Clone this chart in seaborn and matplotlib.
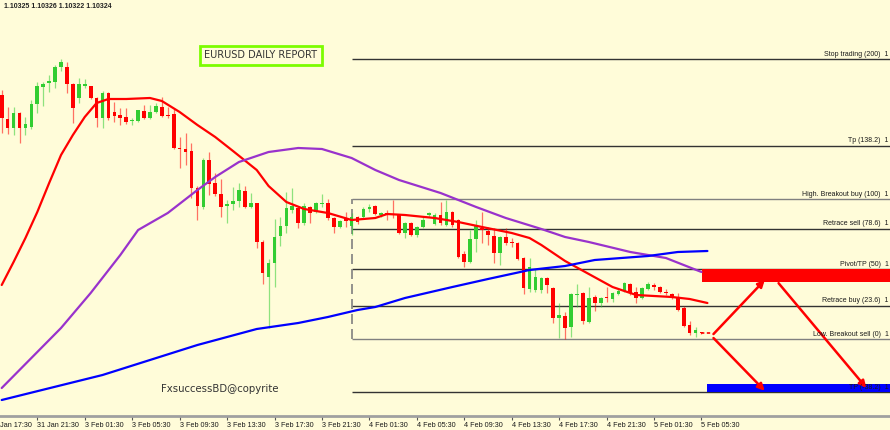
import numpy as np
import pandas as pd
import matplotlib
matplotlib.use("Agg")
import matplotlib.pyplot as plt
import matplotlib.transforms as mtransforms
import seaborn as sns
from matplotlib.patches import Rectangle, FancyArrowPatch

# ---------------- data (prices in points, 1 point = 0.00001) ----------------
first_bar = -6  # bar 0 = 31 Jan 21:30, M30 bars
opens = [110800, 110752, 110734, 110764, 110734, 110736,
         110782, 110816, 110824, 110826, 110856, 110856, 110822, 110794, 110818, 110818,
         110794, 110754, 110804, 110766, 110760, 110756, 110748, 110748, 110768, 110754,
         110766, 110776, 110760, 110762, 110694, 110692, 110688, 110614, 110576, 110670,
         110624, 110602, 110578, 110582, 110588, 110608, 110576, 110584, 110506, 110436,
         110464, 110518, 110538, 110570, 110574, 110544, 110576, 110566, 110582, 110584,
         110554, 110536, 110552, 110538, 110556, 110556, 110572, 110578, 110560, 110564,
         110562, 110560, 110524, 110544, 110520, 110536, 110560, 110542, 110560, 110540,
         110566, 110550, 110482, 110466, 110512, 110534, 110528, 110518, 110484, 110516,
         110506, 110504, 110474, 110412, 110410, 110410, 110434, 110414, 110354, 110358,
         110336, 110400, 110404, 110346, 110396, 110384, 110396, 110392, 110402, 110408,
         110422, 110406, 110394, 110412, 110420, 110416, 110406, 110402, 110396, 110374,
         110340, 110324, 110325]
highs = [110810, 110776, 110776, 110766, 110756, 110790,
         110826, 110826, 110840, 110860, 110872, 110866, 110824, 110834, 110832, 110818,
         110796, 110808, 110806, 110786, 110774, 110774, 110754, 110770, 110780, 110780,
         110784, 110796, 110776, 110774, 110716, 110724, 110704, 110618, 110674, 110686,
         110644, 110632, 110590, 110616, 110624, 110618, 110604, 110584, 110510, 110472,
         110552, 110556, 110606, 110614, 110576, 110584, 110578, 110586, 110602, 110592,
         110556, 110550, 110566, 110564, 110558, 110576, 110582, 110580, 110566, 110570,
         110590, 110562, 110546, 110546, 110538, 110556, 110566, 110564, 110586, 110590,
         110568, 110552, 110488, 110530, 110550, 110566, 110536, 110534, 110518, 110534,
         110514, 110506, 110476, 110474, 110452, 110436, 110436, 110416, 110384, 110366,
         110404, 110422, 110406, 110416, 110400, 110396, 110416, 110406, 110412, 110426,
         110424, 110416, 110416, 110426, 110424, 110418, 110412, 110404, 110404, 110378,
         110348, 110336, 110326]
lows = [110724, 110722, 110720, 110704, 110720, 110732,
        110764, 110778, 110806, 110814, 110848, 110804, 110744, 110784, 110814, 110792,
        110736, 110734, 110750, 110746, 110740, 110742, 110740, 110746, 110752, 110752,
        110764, 110756, 110754, 110692, 110654, 110660, 110594, 110550, 110572, 110600,
        110598, 110556, 110544, 110570, 110576, 110574, 110574, 110494, 110422, 110334,
        110416, 110498, 110524, 110564, 110534, 110540, 110544, 110564, 110576, 110550,
        110524, 110534, 110536, 110520, 110542, 110554, 110566, 110560, 110556, 110550,
        110554, 110522, 110514, 110518, 110516, 110534, 110556, 110540, 110540, 110538,
        110536, 110474, 110456, 110464, 110486, 110504, 110500, 110464, 110460, 110500,
        110496, 110470, 110402, 110406, 110406, 110404, 110404, 110344, 110314, 110312,
        110316, 110376, 110342, 110344, 110368, 110376, 110386, 110386, 110400, 110406,
        110400, 110384, 110392, 110410, 110410, 110404, 110400, 110392, 110368, 110336,
        110320, 110316, 110322]
closes = [110754, 110734, 110764, 110734, 110742, 110782,
          110818, 110822, 110828, 110856, 110866, 110822, 110774, 110822, 110822, 110794,
          110754, 110804, 110754, 110758, 110754, 110746, 110750, 110770, 110754, 110766,
          110778, 110758, 110758, 110694, 110692, 110686, 110614, 110578, 110670, 110622,
          110602, 110576, 110582, 110588, 110610, 110576, 110584, 110506, 110444, 110464,
          110516, 110538, 110574, 110578, 110544, 110578, 110564, 110584, 110584, 110554,
          110536, 110548, 110548, 110556, 110546, 110572, 110576, 110562, 110564, 110560,
          110560, 110524, 110544, 110520, 110536, 110550, 110564, 110560, 110544, 110566,
          110540, 110476, 110466, 110512, 110538, 110530, 110520, 110484, 110516, 110504,
          110504, 110472, 110414, 110456, 110436, 110434, 110420, 110354, 110360, 110334,
          110402, 110402, 110348, 110394, 110384, 110394, 110394, 110404, 110408, 110424,
          110404, 110394, 110414, 110422, 110416, 110406, 110404, 110396, 110370, 110338,
          110324, 110330, 110324]

# moving averages: (bar, price points)
ma_red_bar = [-6, -4, -2, 0, 2, 4, 6, 8, 10, 12, 15, 19, 21, 24, 27, 30, 33, 37, 39, 42, 45,
              49, 53, 57, 59, 62, 67, 71, 75, 80, 83, 85, 89, 93, 97, 101, 107, 110, 113]
ma_red_val = [110420, 110466, 110514, 110566, 110624, 110680, 110720, 110756, 110784, 110792,
              110792, 110794, 110788, 110766, 110740, 110716, 110688, 110650, 110618, 110586,
              110572, 110564, 110550, 110554, 110562, 110560, 110554, 110546, 110536, 110524,
              110514, 110500, 110468, 110442, 110416, 110400, 110396, 110392, 110384]
ma_purple_bar = [-6, -1, 4, 9, 14, 17, 22, 27, 30, 34, 39, 44, 48, 53, 57, 61, 68, 74, 79, 85,
                 89, 93, 100, 106, 112]
ma_purple_val = [110214, 110274, 110334, 110404, 110480, 110530, 110564, 110610, 110636, 110666,
                 110686, 110694, 110692, 110674, 110650, 110630, 110604, 110576, 110554, 110532,
                 110516, 110506, 110486, 110474, 110446]
ma_blue_bar = [-6, 11, 27, 37, 44, 49, 54, 57, 62, 70, 76, 83, 89, 94, 103, 108, 113]
ma_blue_val = [110190, 110240, 110300, 110332, 110344, 110356, 110370, 110376, 110394, 110416,
               110432, 110450, 110458, 110470, 110478, 110486, 110488]

# Fibonacci levels
fib_low, fib_high = 110312, 110592
fib_levels = [200, 138.2, 100, 78.6, 50, 23.6, 0, -38.2]
fib_names = ["Stop trading (200)", "Tp (138.2)", "High. Breakout buy (100)",
             "Retrace sell (78.6)", "Pivot/TP (50)", "Retrace buy (23.6)",
             "Low. Breakout sell (0)", "TP (-38.2)"]
fib_price_stub = "1"   # visible start of the price column at the right edge
fib_start_bar = 53.1

tick_labels = ["31 Jan 17:30", "31 Jan 21:30", "3 Feb 01:30", "3 Feb 05:30", "3 Feb 09:30",
               "3 Feb 13:30", "3 Feb 17:30", "3 Feb 21:30", "4 Feb 01:30", "4 Feb 05:30",
               "4 Feb 09:30", "4 Feb 13:30", "4 Feb 17:30", "4 Feb 21:30", "5 Feb 01:30",
               "5 Feb 05:30"]

# scenario arrows in (bar, fib level)
arrows = [((113.7, 2.1), (123.0, 43.6)),
          ((124.7, 41.4), (140.1, -36.4)),
          ((113.7, 2.1), (123.0, -38.4))]
zone_sell = (112.1, 40.7, 50.0)   # start bar, level from, level to
zone_tp = (113.0, -38.2, -32.0)

# ---------------- build ----------------
PT = 1e-5
n = len(opens)
assert n == len(highs) == len(lows) == len(closes)
df = pd.DataFrame({
    "bar": np.arange(first_bar, first_bar + n),
    "open": np.array(opens) * PT, "high": np.array(highs) * PT,
    "low": np.array(lows) * PT, "close": np.array(closes) * PT,
})
df["up"] = df["close"] >= df["open"]

def lvl(v):
    return (fib_low + (fib_high - fib_low) * v / 100.0) * PT

BG = "#FFFCD9"
GREEN = "#32CD32"
RED = "#FF0000"
SMALL = "Liberation Sans"

sns.set_theme(style="white", rc={"axes.facecolor": BG, "figure.facecolor": BG})
plt.rcParams["font.family"] = ["DejaVu Sans"]

fig = plt.figure(figsize=(8.9, 4.3), dpi=100)
ax = fig.add_axes([0, 14 / 430, 1, 416 / 430])
ax.set_facecolor(BG)

x_left = -6.29
x_right = 143.79
y_top = 1.10990
y_bot = 1.10158

# fib lines
for lv, name in zip(fib_levels, fib_names):
    col = "#808080" if lv in (100, 0) else "#333333"
    ax.hlines(lvl(lv), fib_start_bar, x_right + 5, color=col, lw=1.0, zorder=2)
ax.vlines(fib_start_bar, lvl(0), lvl(100), color="#808080", lw=1.2,
          linestyles=(0, (6, 3)), zorder=2)

# zones
ax.add_patch(Rectangle((zone_sell[0], lvl(zone_sell[1])), x_right + 5 - zone_sell[0],
                       lvl(zone_sell[2]) - lvl(zone_sell[1]), color=RED, lw=0, zorder=3))
ax.add_patch(Rectangle((zone_tp[0], lvl(zone_tp[1])), x_right + 5 - zone_tp[0],
                       lvl(zone_tp[2]) - lvl(zone_tp[1]), color="#0000FF", lw=0, zorder=3))

# fib labels
for lv, name in zip(fib_levels, fib_names):
    yv = lvl(lv) + 0.00003
    ax.text(143.6, yv, f"{name}  {fib_price_stub}", ha="right", va="bottom", fontsize=5,
            color="#1a1a1a", zorder=9, family=SMALL)

# candles
body_w = 0.62
for up, sub in df.groupby("up"):
    col = GREEN if up else RED
    ax.vlines(sub["bar"], sub["low"], sub["high"], color=col, lw=0.9, alpha=0.55, zorder=4)
    bottom = np.minimum(sub["open"], sub["close"])
    height = np.maximum((sub["close"] - sub["open"]).abs(), 0.000022)
    ax.bar(sub["bar"], height, bottom=bottom, width=body_w, color=col, lw=0, zorder=5)

# moving averages
ma_df = pd.concat([
    pd.DataFrame({"bar": ma_red_bar, "price": np.array(ma_red_val) * PT, "ma": "fast"}),
    pd.DataFrame({"bar": ma_purple_bar, "price": np.array(ma_purple_val) * PT, "ma": "mid"}),
    pd.DataFrame({"bar": ma_blue_bar, "price": np.array(ma_blue_val) * PT, "ma": "slow"}),
])
sns.lineplot(data=ma_df, x="bar", y="price", hue="ma", sort=False, estimator=None,
             palette={"fast": RED, "mid": "#9932CC", "slow": "#0000FF"},
             lw=1.6, legend=False, ax=ax, zorder=7)

# current price dash
last = df.iloc[-1]
ax.hlines(last["close"], last["bar"], arrows[0][0][0], color=RED, lw=1.2,
          linestyles=(0, (2, 1.5)), zorder=7)

# arrows
for (b0, l0), (b1, l1) in arrows:
    ax.add_patch(FancyArrowPatch((b0, lvl(l0)), (b1, lvl(l1)), arrowstyle="-|>",
                                 mutation_scale=10, color=RED, lw=1.8, zorder=8))

# axes styling
for s in ["top", "left", "right"]:
    ax.spines[s].set_visible(False)
ax.spines["bottom"].set_color("#A0A0A0")
ax.spines["bottom"].set_linewidth(2)
ax.set_yticks([])
ax.set_xlabel("")
ax.set_ylabel("")
tick_pos = [first_bar - 2 + 8 * k for k in range(len(tick_labels))]
ax.set_xticks(tick_pos)
ax.set_xticklabels(tick_labels, family=SMALL)
ax.tick_params(axis="x", bottom=True, length=3, width=0.8, color="#555555", pad=1,
               labelsize=5.2, labelcolor="#1a1a1a", direction="out")
for t in ax.get_xticklabels():
    t.set_ha("left")
ax.set_xlim(x_left, x_right)
ax.set_ylim(y_bot, y_top)

# first time label sits partly left of the visible area, as on the terminal
first_lab_tr = mtransforms.offset_copy(ax.get_xaxis_transform(), fig=fig, y=-4.2,
                                       units="points")
ax.text(tick_pos[0], 0, tick_labels[0], transform=first_lab_tr, ha="left", va="top",
        fontsize=5.2, color="#1a1a1a", family=SMALL, clip_on=False)

# texts
o, h, l, c = opens[-1] * PT, highs[-1] * PT, lows[-1] * PT, closes[-1] * PT
fig.text(0.004, 1 - 7 / 430, f"{o:.5f} {h:.5f} {l:.5f} {c:.5f}", fontsize=5.0,
         fontweight="bold", color="#222222", va="center", ha="left", family=SMALL)
fig.text(261 / 890, 1 - 55.5 / 430, "EURUSD DAILY REPORT", fontsize=7, color="#333333",
         ha="center", va="center",
         bbox=dict(boxstyle="square,pad=0.45", fc="none", ec="#7CFC00", lw=2))
fig.text(220 / 890, 1 - 389 / 430, "FxsuccessBD@copyrite", fontsize=7.3, color="#333333",
         ha="center", va="center")

fig.savefig("out.png", dpi=100, facecolor=BG)
